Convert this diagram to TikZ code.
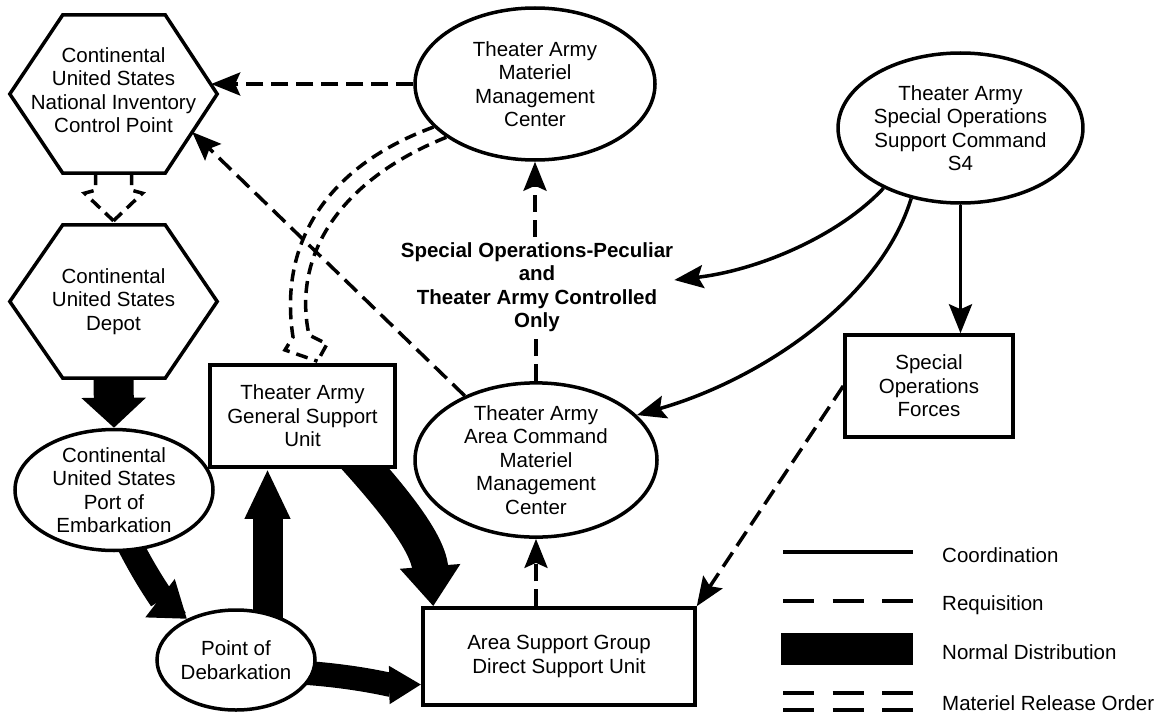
\documentclass[tikz,border=0pt]{standalone}
\usepackage{fontspec}
\setmainfont{Liberation Sans}
\usetikzlibrary{shapes.geometric,arrows.meta,calc}
\pgfdeclarelayer{bg}
\pgfsetlayers{bg,main}
\begin{document}
\begin{tikzpicture}[x=1pt,y=-1pt,
  every node/.style={font=\fontsize{20.5}{23.5}\selectfont, align=center, inner sep=0pt},
  outline/.style={draw, line width=3.5pt, fill=white},
  rectnode/.style={outline, rectangle},
  ellnode/.style={outline, ellipse},
  hexnode/.style={rectangle, draw=none},
  coord/.style={line width=3.5pt, -{Stealth[length=29pt,width=23pt,inset=5pt]}},
  req/.style={coord, dash pattern=on 17pt off 8pt},
  mro/.style={line width=3.5pt, dash pattern=on 12pt off 7pt, line join=miter},
  distr/.style={line width=#1, draw=black},
]
\useasboundingbox (0,0) rectangle (1169,717);

% ---------- nodes ----------
\node[hexnode, minimum width=207pt, minimum height=158pt] (nicp) at (113.5,94) {};
\node[hexnode, minimum width=207pt, minimum height=153pt] (depot) at (113.5,301.5) {};
\foreach \h in {nicp,depot}{
  \draw[line width=3.5pt, line join=miter, fill=white]
    (\h.west) -- ($(\h.north west)+(53,0)$) -- ($(\h.north east)+(-52,0)$)
    -- (\h.east) -- ($(\h.south east)+(-52,0)$) -- ($(\h.south west)+(53,0)$) -- cycle;
}
\node (nicptext) at ($(nicp.center)+(0,-4)$)
  {Continental\\United States\\National Inventory\\Control Point};
\node (depottext) at (depot.center)
  {Continental\\United States\\Depot};
\node[ellnode, minimum width=198pt, minimum height=120pt] (poe) at (114,490)
  {Continental\\United States\\Port of\\Embarkation};
\node[rectnode, minimum width=185pt, minimum height=102pt] (gsu) at (302.5,416)
  {Theater Army\\General Support\\Unit};
\node[ellnode, minimum width=158pt, minimum height=100pt] (pod) at (236,660)
  {Point of\\Debarkation};
\node[rectnode, minimum width=272pt, minimum height=97pt] (asg) at (559,656.5)
  {Area Support Group\\Direct Support Unit};
\node[ellnode, minimum width=242pt, minimum height=154pt] (acmmc) at (536,460)
  {Theater Army\\Area Command\\Materiel\\Management\\Center};
\node[ellnode, minimum width=240pt, minimum height=152pt] (tammc) at (535,84)
  {Theater Army\\Materiel\\Management\\Center};
\node[ellnode, minimum width=225pt, minimum height=150pt] (sosc) at (960.5,128)
  {Theater Army\\Special Operations\\Support Command\\S4};
\node[rectnode, minimum width=168pt, minimum height=102pt] (sof) at (929,386)
  {Special\\Operations\\Forces};
\node[font=\bfseries\fontsize{20.5}{23.5}\selectfont, inner sep=5pt] (lbl) at (537,287)
  {Special Operations-Peculiar\\and\\Theater Army Controlled\\Only};

% ---------- normal distribution (behind the nodes) ----------
\begin{pgfonlayer}{bg}
\draw[distr=40pt, -{Triangle[length=30pt,width=63pt]}]
  ($(depot.south)+(0,-15)$) -- (poe.north);
\draw[distr=26pt, -{Triangle[length=34pt,width=46pt]}]
  ($(poe.288)+(-8,-14)$) .. controls (150,585) and (165,602) .. (pod.140);
\coordinate (podup) at ($(gsu.south)+(-35,0)$);
\draw[distr=30pt, -{Triangle[length=50pt,width=42pt]}] (podup |- pod.center) -- (podup);
\draw[distr=36pt, -{Triangle[length=40pt,width=58pt]}]
  ($(gsu.south)+(45,-20)$) .. controls (385,490) and (428,540) .. ($(asg.north west)+(12,0)$);
\draw[distr=24pt, -{Triangle[length=32pt,width=36pt]}]
  ($(pod.-9)+(-15,0)$) .. controls (355,676) and (390,685) .. ($(asg.west)+(0,28)$);
\end{pgfonlayer}

% ---------- requisition ----------
\draw[req] (tammc.west) -- ($(nicp.east)+(-6,-10)$);
\draw[req] (acmmc.138) -- ($(nicp.east)+(-25,38)$);
\draw[req, -] (acmmc.north) -- (acmmc.north |- lbl.south);
\draw[req] (lbl.north -| tammc.south) -- (tammc.south);
\draw[req] (sof.west) -- (asg.north east);
\draw[req] (asg.north -| acmmc.south) -- (acmmc.south);

% ---------- coordination ----------
\draw[coord] (sosc.218) .. controls (840,235) and (760,270) .. ($(lbl.east)+(-4,-7)$);
\draw[coord] (sosc.235) .. controls (880,300) and (760,380) .. (acmmc.24);
\draw[coord] (sosc.south) -- (sosc.south |- sof.north);

% ---------- materiel release order ----------
\draw[mro] ($(nicp.south)+(-18,0)$) -- ++(0,17) -- ++(-11,3) -- ($(depot.north)+(0,-4)$);
\draw[mro] ($(nicp.south)+(18,0)$) -- ++(0,17) -- ++(11,3) -- ($(depot.north)+(0,-4)$);
\draw[mro] (tammc.203) .. controls (330,165) and (278,240) .. (293,337)
  -- (285,350) -- ($(gsu.north)+(15,-2)$);
\draw[mro] (tammc.211) .. controls (340,180) and (292,255) .. (309,335)
  -- (327,344) -- ($(gsu.north)+(15,-2)$);

% ---------- legend ----------
\coordinate (l1a) at (783,552);  \coordinate (l1b) at (913,552);
\coordinate (l2a) at (783,601);  \coordinate (l2b) at (913,601);
\coordinate (l3a) at (781,633);  \coordinate (l3b) at (913,665);
\coordinate (l4a) at (783,693);  \coordinate (l4b) at (913,693);
\coordinate (l5a) at (783,710);  \coordinate (l5b) at (913,710);
\draw[line width=3.5pt] (l1a) -- (l1b);
\draw[line width=3.5pt, dash pattern=on 31pt off 18.5pt] (l2a) -- (l2b);
\fill (l3a) rectangle (l3b);
\draw[line width=3.5pt, dash pattern=on 31pt off 18.5pt] (l4a) -- (l4b);
\draw[line width=3.5pt, dash pattern=on 31pt off 18.5pt] (l5a) -- (l5b);
\node[anchor=west] (t1) at (942,555) {Coordination};
\node[anchor=west] (t2) at (942,605) {Requisition};
\node[anchor=west] (t3) at (942,652) {Normal Distribution};
\node[anchor=west] (t4) at (942,703) {Materiel Release Order};
\end{tikzpicture}
\end{document}
